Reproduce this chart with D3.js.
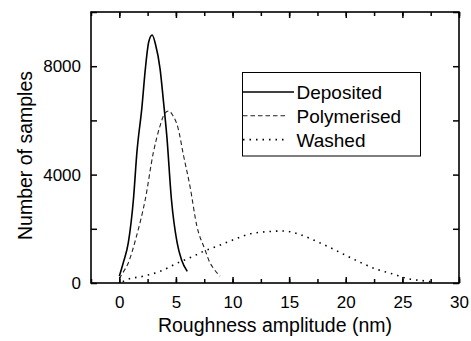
<!DOCTYPE html>
<html>
<head>
<meta charset="utf-8">
<script src="https://cdn.jsdelivr.net/npm/d3@7"></script>
<style>
  body { margin: 0; background: #fff; }
  svg text { font-family: "Liberation Sans", Arial, sans-serif; fill: #000; }
</style>
</head>
<body>
<svg id="chart" width="471" height="341"></svg>
<script>
// values
const depositedX = [0, 0.35, 0.8, 1.25, 1.55, 2.0, 2.3, 2.6, 2.9, 3.2, 3.6, 3.9, 4.2, 4.6, 5.1, 5.5, 6.0]
const depositedY = [250, 750, 1500, 3100, 4800, 6500, 7900, 8900, 9150, 8800, 7900, 6700, 5400, 3100, 1500, 850, 430]

const polymerisedX = [0, 0.2, 0.8, 1.5, 2.3, 3.0, 3.6, 4.0, 4.35, 4.7, 5.2, 5.65, 6.25, 6.85, 7.55, 8.0, 8.3, 8.9]
const polymerisedY = [150, 300, 750, 1700, 3100, 4800, 5800, 6250, 6350, 6200, 5700, 4750, 3550, 2100, 1250, 750, 550, 250]

const washedX = [0.3, 0.65, 2.1, 3.6, 5.1, 6.5, 7.5, 8.6, 10.1, 11.5, 13.3, 14.5, 16.0, 17.4, 18.9, 20.1, 21.4, 22.7, 24.1, 25.5, 26.9, 27.5]
const washedY = [50, 120, 250, 430, 730, 980, 1180, 1350, 1600, 1810, 1900, 1920, 1780, 1540, 1250, 1000, 740, 510, 340, 160, 80, 50]

const seriesNames = ['Deposited', 'Polymerised', 'Washed']
const xTickLabels = [0, 5, 10, 15, 20, 25, 30]
const yTickLabels = [0, 4000, 8000]

const svg = d3.select('#chart')
const pLeft = 91, pRight = 459, pTop = 12, pBottom = 283

const x = d3.scaleLinear().domain([-2.5, 30]).range([pLeft, pRight])
const y = d3.scaleLinear().domain([0, 10000]).range([pBottom, pTop])

const series = [
    {name: seriesNames[0], xs: depositedX, ys: depositedY, dash: null, width: 1.6, color: '#000'},
    {name: seriesNames[1], xs: polymerisedX, ys: polymerisedY, dash: '4.5,3', width: 1.1, color: '#222'},
    {name: seriesNames[2], xs: washedX, ys: washedY, dash: '1.5,5', width: 1.6, color: '#000'}
]

const line = d3.line()
    .x(d => x(d[0]))
    .y(d => y(d[1]))
    .curve(d3.curveMonotoneX)

series.forEach(s => {
    svg.append('path')
        .attr('d', line(s.xs.map((v, i) => [v, s.ys[i]])))
        .attr('fill', 'none')
        .attr('stroke', s.color)
        .attr('stroke-width', s.width)
        .attr('stroke-dasharray', s.dash)
})

// axes, ticks pointing inward
const minorX = d3.range(-2.5, 30.01, 2.5)
const yTicks = d3.range(0, 10001, 2000)

function styleAxis(g){
    g.select('.domain').remove()
    g.selectAll('line').attr('stroke', '#000').attr('stroke-width', 1.5)
    g.selectAll('text').style('font-size', '17px').style('font-family', '"Liberation Sans", Arial, sans-serif')
}

svg.append('g')
    .attr('transform', 'translate(0,' + pBottom + ')')
    .call(d3.axisBottom(x).tickValues(minorX).tickSizeInner(-4).tickSizeOuter(0).tickFormat(''))
    .call(styleAxis)

svg.append('g')
    .attr('transform', 'translate(0,' + pBottom + ')')
    .call(d3.axisBottom(x).tickValues(xTickLabels).tickSizeInner(-6).tickSizeOuter(0).tickPadding(13).tickFormat(d3.format('d')))
    .call(styleAxis)

svg.append('g')
    .attr('transform', 'translate(0,' + pTop + ')')
    .call(d3.axisTop(x).tickValues(minorX).tickSizeInner(-4).tickSizeOuter(0).tickFormat(''))
    .call(styleAxis)

svg.append('g')
    .attr('transform', 'translate(0,' + pTop + ')')
    .call(d3.axisTop(x).tickValues(xTickLabels).tickSizeInner(-6).tickSizeOuter(0).tickFormat(''))
    .call(styleAxis)

svg.append('g')
    .attr('transform', 'translate(' + pLeft + ',0)')
    .call(d3.axisLeft(y).tickValues(yTicks).tickSizeInner(-6).tickSizeOuter(0).tickFormat(''))
    .call(styleAxis)

svg.append('g')
    .attr('transform', 'translate(' + pLeft + ',0)')
    .call(d3.axisLeft(y).tickValues(yTickLabels).tickSize(0).tickPadding(10).tickFormat(d3.format('d')))
    .call(styleAxis)

svg.append('g')
    .attr('transform', 'translate(' + pRight + ',0)')
    .call(d3.axisRight(y).tickValues(yTicks).tickSizeInner(-6).tickSizeOuter(0).tickFormat(''))
    .call(styleAxis)

// frame
svg.append('rect')
    .attr('x', pLeft)
    .attr('y', pTop)
    .attr('width', pRight - pLeft)
    .attr('height', pBottom - pTop)
    .attr('fill', 'none')
    .attr('stroke', '#000')
    .attr('stroke-width', 1.6)

// axis titles
svg.append('text')
    .attr('x', (pLeft + pRight) / 2)
    .attr('y', 332)
    .attr('text-anchor', 'middle')
    .style('font-size', '19.5px')
    .text('Roughness amplitude (nm)')

svg.append('text')
    .attr('transform', 'translate(32,' + ((pTop + pBottom) / 2 + 8) + ') rotate(-90)')
    .attr('text-anchor', 'middle')
    .style('font-size', '19.5px')
    .text('Number of samples')

// legend
const legend = svg.append('g')
legend.append('rect')
    .attr('x', 242.5)
    .attr('y', 72.5)
    .attr('width', 178)
    .attr('height', 83.5)
    .attr('fill', '#fff')
    .attr('stroke', '#000')
    .attr('stroke-width', 1)

series.forEach((s, i) => {
    const ly = 92 + i * 23.8
    legend.append('line')
        .attr('x1', 243)
        .attr('x2', s.dash ? 287 : 294)
        .attr('y1', ly)
        .attr('y2', ly)
        .attr('stroke', s.color)
        .attr('stroke-width', s.width)
        .attr('stroke-dasharray', s.dash)
    legend.append('text')
        .attr('x', 296.5)
        .attr('y', ly + 7)
        .style('font-size', '19px')
        .text(s.name)
})
</script>
</body>
</html>
